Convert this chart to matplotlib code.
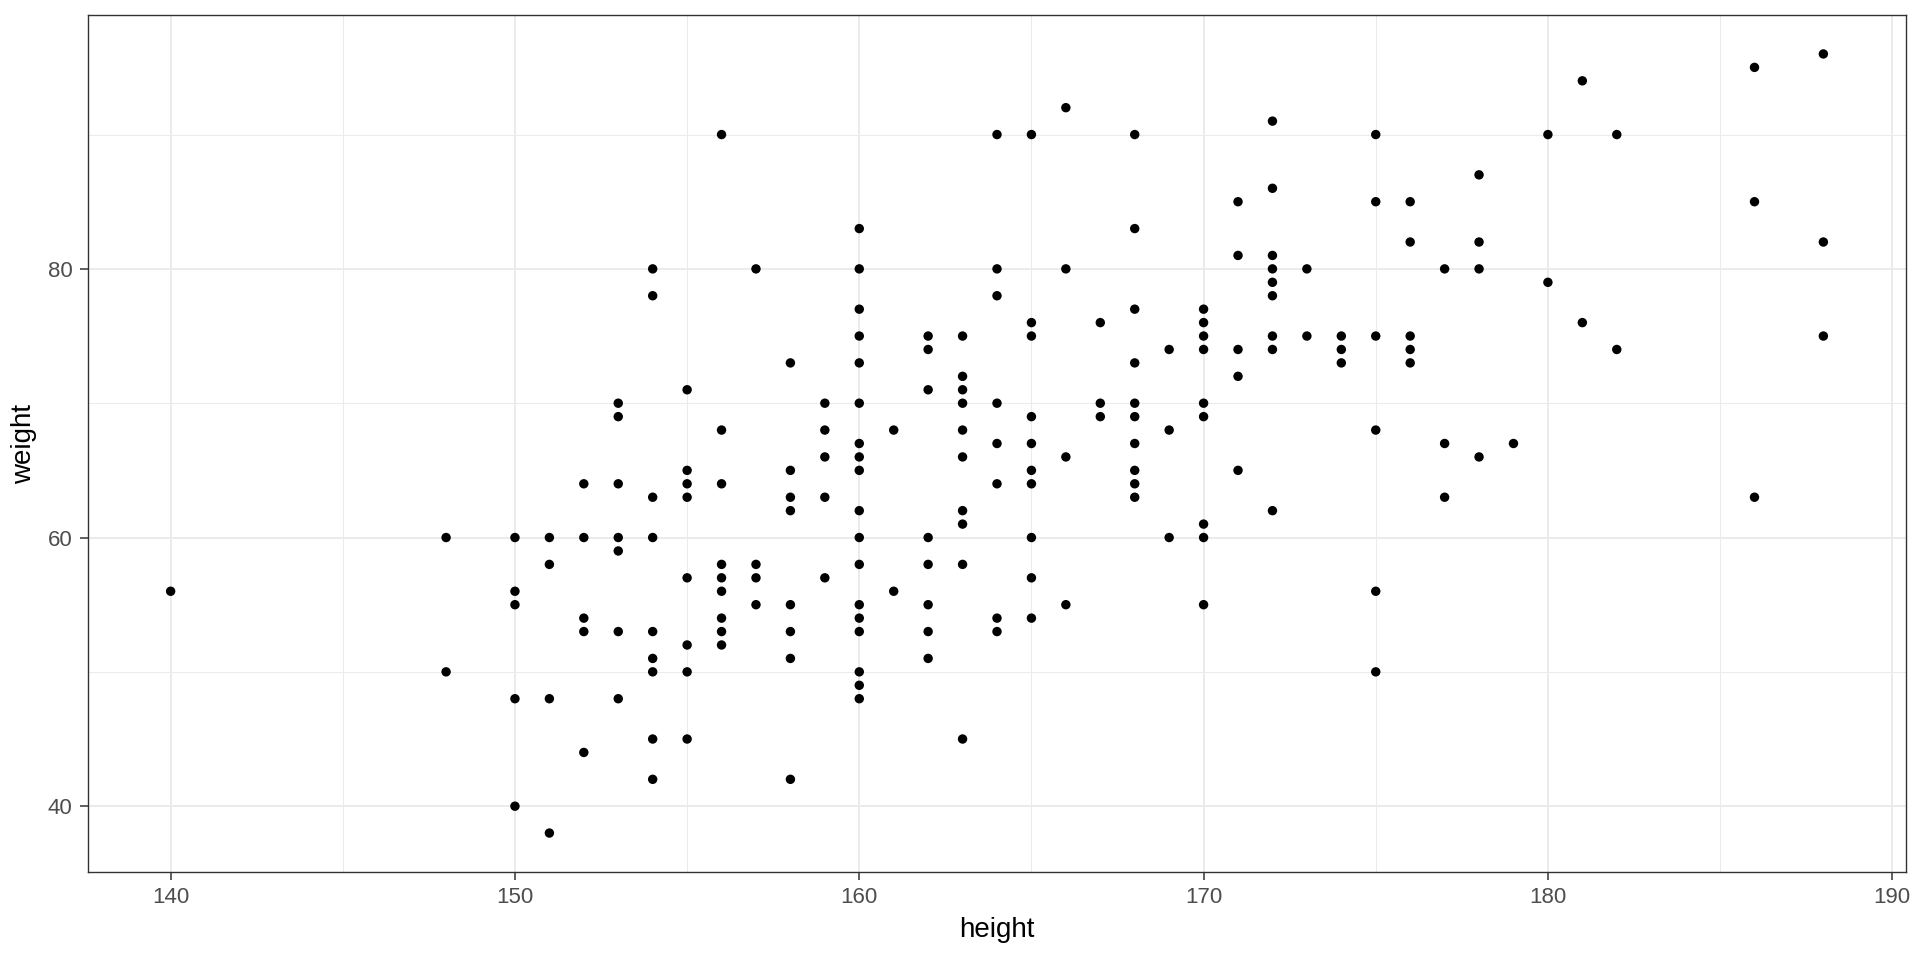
import matplotlib
matplotlib.use("Agg")
import matplotlib.pyplot as plt
from matplotlib.ticker import MultipleLocator

# height -> list of weights
weights_by_height = {
    140: [56],
    148: [60, 50],
    150: [60, 56, 55, 48, 40],
    151: [60, 58, 48, 38],
    152: [64, 60, 54, 53, 44],
    153: [70, 69, 64, 60, 59, 53, 48],
    154: [80, 78, 63, 60, 53, 51, 50, 45, 42],
    155: [71, 65, 64, 63, 57, 52, 50, 45],
    156: [90, 68, 64, 58, 57, 56, 54, 53, 52],
    157: [80, 58, 57, 55],
    158: [73, 65, 63, 62, 55, 53, 51, 42],
    159: [70, 68, 66, 63, 57],
    160: [83, 80, 77, 75, 73, 70, 67, 66, 65, 62, 60, 58, 55, 54, 53, 50, 49, 48],
    161: [68, 56],
    162: [75, 74, 71, 60, 58, 55, 53, 51],
    163: [75, 72, 71, 70, 68, 66, 62, 61, 58, 45],
    164: [90, 80, 78, 70, 67, 64, 54, 53],
    165: [90, 76, 75, 69, 67, 65, 64, 60, 57, 54],
    166: [92, 80, 66, 55],
    167: [76, 70, 69],
    168: [90, 83, 77, 73, 70, 69, 67, 65, 64, 63],
    169: [74, 68, 60],
    170: [77, 76, 75, 74, 70, 69, 61, 60, 55],
    171: [85, 81, 74, 72, 65],
    172: [91, 86, 81, 80, 79, 78, 75, 74, 62],
    173: [80, 75],
    174: [75, 74, 73],
    175: [90, 85, 75, 68, 56, 50],
    176: [85, 82, 75, 74, 73],
    177: [80, 67, 63],
    178: [87, 82, 80, 66],
    179: [67],
    180: [90, 79],
    181: [94, 76],
    182: [90, 74],
    186: [95, 85, 63],
    188: [96, 82, 75],
}

height = []
weight = []
for h, ws in weights_by_height.items():
    for w in ws:
        height.append(h)
        weight.append(w)

x_ticks = [140, 150, 160, 170, 180, 190]
y_ticks = [40, 60, 80]

plt.rcParams['font.family'] = ['Liberation Sans', 'DejaVu Sans']

fig = plt.figure(figsize=(19.2, 9.6), dpi=100)
ax = fig.add_axes([88 / 1920, 1 - 872 / 960, (1906 - 88) / 1920, (872 - 15) / 960])

ax.scatter(height, weight, s=46, c='black', edgecolors='none', zorder=3)

# ggplot-style expansion (5%)
xr = max(height) - min(height)
yr = max(weight) - min(weight)
ax.set_xlim(min(height) - 0.05 * xr, max(height) + 0.05 * xr)
ax.set_ylim(min(weight) - 0.05 * yr, max(weight) + 0.05 * yr)

ax.set_xticks(x_ticks)
ax.set_yticks(y_ticks)
ax.xaxis.set_minor_locator(MultipleLocator(5))
ax.yaxis.set_minor_locator(MultipleLocator(10))

ax.grid(which='major', color='#EBEBEB', linewidth=1.4, zorder=0)
ax.grid(which='minor', color='#EBEBEB', linewidth=0.75, zorder=0)
ax.set_axisbelow(True)

for s in ax.spines.values():
    s.set_color('#333333')
    s.set_linewidth(1.0)

ax.tick_params(which='major', length=6, width=1.1, color='#333333',
               labelsize=16, labelcolor='#4D4D4D', pad=5)
ax.tick_params(which='minor', length=0)

ax.set_xlabel('height', fontsize=20, color='black', labelpad=6)
ax.set_ylabel('weight', fontsize=20, color='black', labelpad=8)

fig.savefig('out.png', dpi=100, facecolor='white')
